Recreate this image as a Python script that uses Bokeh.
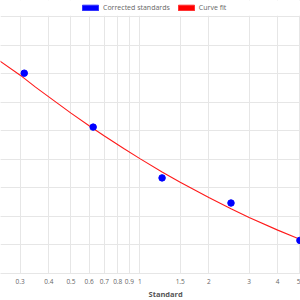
from bokeh.plotting import figure
from bokeh.models import (Range1d, FixedTicker, Grid, LogAxis, Legend, LegendItem,
                          ColumnDataSource, Title, BoxAnnotation)
from bokeh.embed import file_html
from bokeh.resources import INLINE

# Data
standards = [0.3125, 0.625, 1.25, 2.5, 5]
corrected = [0.702, 0.513, 0.335, 0.247, 0.116]

fit_x = [0.24, 0.3, 0.35, 0.4, 0.5, 0.6, 0.7, 0.85, 1, 1.25, 1.5, 2, 2.5, 3, 4, 5]
fit_y = [0.749, 0.695, 0.653, 0.619, 0.562, 0.518, 0.482, 0.438, 0.4025, 0.356, 0.320,
         0.266, 0.227, 0.1965, 0.152, 0.120]

x_ticks = [0.3, 0.4, 0.5, 0.6, 0.7, 0.8, 0.9, 1, 1.5, 2, 3, 4, 5]
y_ticks = [0, 0.1, 0.2, 0.3, 0.4, 0.5, 0.6, 0.7, 0.8, 0.9]

FONT = "Open Sans"
GRID = "#e6e6e6"

p = figure(width=300, height=300, x_axis_type="log", x_axis_location=None, y_axis_location=None,
           x_range=Range1d(0.2461, 5.03), y_range=Range1d(0, 0.9567),
           output_backend="svg", toolbar_location=None,
           min_border_left=0, min_border_right=0, min_border_top=0, min_border_bottom=27)
p.outline_line_color = None
p.background_fill_color = "white"

xaxis = LogAxis(ticker=FixedTicker(ticks=x_ticks))
xaxis.major_label_overrides = {t: str(t) for t in x_ticks}
xaxis.major_tick_line_color = None
xaxis.minor_tick_line_color = None
xaxis.major_tick_out = 0
xaxis.major_tick_in = 0
xaxis.axis_line_color = GRID
xaxis.major_label_text_font = FONT
xaxis.major_label_text_font_size = "6.5px"
xaxis.major_label_text_color = "#666666"
xaxis.major_label_standoff = 5
p.add_layout(xaxis, "below")

p.add_layout(Title(text="Standard", align="left", offset=148, standoff=0,
                   text_font=FONT, text_font_size="7.5px", text_font_style="bold",
                   text_color="#555555"), "below")

p.add_layout(Grid(dimension=0, ticker=FixedTicker(ticks=x_ticks), grid_line_color=GRID))
p.add_layout(Grid(dimension=1, ticker=FixedTicker(ticks=y_ticks), grid_line_color=GRID))

# white strip above the top gridline (legend area)
p.add_layout(BoxAnnotation(bottom=0.9035, fill_color="white", fill_alpha=1, line_color=None))

curve = p.line(fit_x, fit_y, line_color="red", line_width=1.1, line_alpha=0.9)
pts = p.scatter(standards, corrected, size=6.5, fill_color="blue", line_color="blue")

# legend box glyphs (not drawn in the plot)
src_nan = ColumnDataSource(data=dict(x=[float("nan")], y=[float("nan")]))
lg_blue = p.rect(x="x", y="y", width=1, height=1, source=src_nan,
                 fill_color="blue", line_color="#3333ff")
lg_red = p.rect(x="x", y="y", width=1, height=1, source=src_nan,
                fill_color="red", line_color="#ff3333")

legend = Legend(items=[LegendItem(label="Corrected standards", renderers=[lg_blue]),
                       LegendItem(label="Curve fit", renderers=[lg_red])],
                orientation="horizontal", location=(80, 261),
                glyph_width=20, glyph_height=7, label_height=7,
                label_standoff=3, spacing=6, padding=0, margin=0,
                border_line_color=None, background_fill_alpha=0,
                label_text_font=FONT, label_text_font_size="7px",
                label_text_color="#666666")
p.add_layout(legend, "center")

open("out.html", "w").write(file_html(p, INLINE))
